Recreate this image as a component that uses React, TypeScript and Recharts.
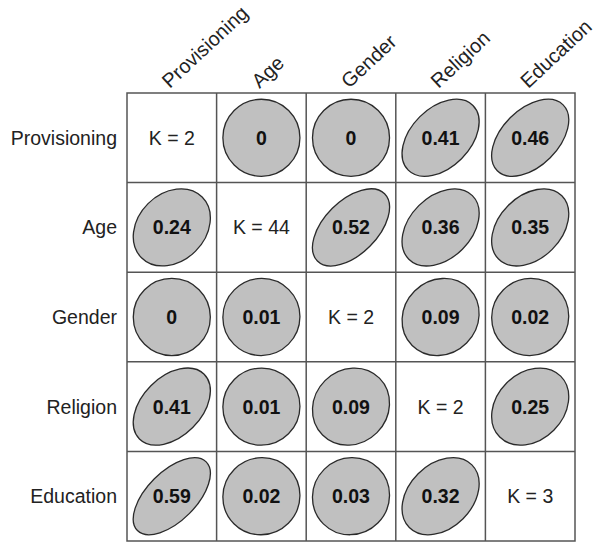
import React from 'react'
import { ScatterChart, Scatter, XAxis, YAxis, ReferenceLine, ReferenceArea } from 'recharts'

const variables = ['Provisioning', 'Age', 'Gender', 'Religion', 'Education']
// number of levels shown on the diagonal
const kValues = [2, 44, 2, 2, 3]
// correlation values, row by row (null = diagonal)
const provisioningRow = [null, 0, 0, 0.41, 0.46]
const ageRow = [0.24, null, 0.52, 0.36, 0.35]
const genderRow = [0, 0.01, null, 0.09, 0.02]
const religionRow = [0.41, 0.01, 0.09, null, 0.25]
const educationRow = [0.59, 0.02, 0.03, 0.32, null]
const rows = [provisioningRow, ageRow, genderRow, religionRow, educationRow]

const cellTicks = [0.5, 1.5, 2.5, 3.5, 4.5]
const innerBoundaries = [1, 2, 3, 4]

const WIDTH = 598
const HEIGHT = 543
const AXIS_TOP = 93
const AXIS_LEFT = 127
const MARGIN = { top: 0, right: 23, bottom: 2, left: 0 }
const cellSize = (WIDTH - AXIS_LEFT - MARGIN.right) / variables.length
const radius = cellSize * 0.43

const points = rows.flatMap((row, i) =>
  row.map((v, j) => ({
    x: j + 0.5,
    y: i + 0.5,
    r: v,
    k: i === j ? kValues[i] : null,
  }))
)

const font = 'Arial, "Liberation Sans", sans-serif'

const CellShape = (props: any) => {
  const { cx, cy, payload } = props
  if (payload.k !== null) {
    return (
      <text x={cx} y={cy} dy={7} textAnchor="middle" fontSize={19.5} fontFamily={font} fill="#222">
        {`K = ${payload.k}`}
      </text>
    )
  }
  const r = payload.r as number
  const rx = radius * Math.sqrt(1 + r)
  const ry = radius * Math.sqrt(1 - r)
  return (
    <g>
      <ellipse
        cx={cx}
        cy={cy}
        rx={rx}
        ry={ry}
        transform={`rotate(-45 ${cx} ${cy})`}
        fill="#c0c0c0"
        stroke="#2a2a2a"
        strokeWidth={1.3}
      />
      <text x={cx} y={cy} dy={7} textAnchor="middle" fontSize={19.5} fontWeight="bold" fontFamily={font} fill="#111">
        {String(r)}
      </text>
    </g>
  )
}

const TopTick = (props: any) => {
  const { x, y, payload } = props
  const name = variables[Math.floor(payload.value)]
  return (
    <text x={x - 2} y={y - 4} transform={`rotate(-43 ${x - 2} ${y - 4})`} fontSize={20} fontFamily={font} fill="#222">
      {name}
    </text>
  )
}

const LeftTick = (props: any) => {
  const { x, y, payload } = props
  const name = variables[Math.floor(payload.value)]
  return (
    <text x={x} y={y} dy={7} textAnchor="end" fontSize={19.5} fontFamily={font} fill="#222">
      {name}
    </text>
  )
}

export default function App() {
  return (
    <div style={{ position: 'absolute', left: 0, top: 0, width: WIDTH, height: HEIGHT, background: '#fff', overflow: 'hidden' }}>
      <ScatterChart width={WIDTH} height={HEIGHT} margin={MARGIN}>
        <XAxis
          type="number"
          dataKey="x"
          domain={[0, 5]}
          ticks={cellTicks}
          orientation="top"
          height={AXIS_TOP}
          axisLine={false}
          tickLine={false}
          tickSize={0}
          tickMargin={0}
          tick={<TopTick />}
          interval={0}
        />
        <YAxis
          type="number"
          dataKey="y"
          domain={[0, 5]}
          reversed
          ticks={cellTicks}
          width={AXIS_LEFT}
          axisLine={false}
          tickLine={false}
          tickSize={0}
          tickMargin={10}
          tick={<LeftTick />}
          interval={0}
        />
        <ReferenceArea
          x1={0}
          x2={5}
          y1={0}
          y2={5}
          fill="none"
          fillOpacity={0}
          stroke="#555"
          strokeWidth={1.5}
          ifOverflow="visible"
        />
        {innerBoundaries.map((b) => (
          <ReferenceLine key={`v${b}`} x={b} stroke="#555" strokeWidth={1.5} ifOverflow="visible" />
        ))}
        {innerBoundaries.map((b) => (
          <ReferenceLine key={`h${b}`} y={b} stroke="#555" strokeWidth={1.5} ifOverflow="visible" />
        ))}
        <Scatter data={points} shape={<CellShape />} isAnimationActive={false} />
      </ScatterChart>
    </div>
  )
}
